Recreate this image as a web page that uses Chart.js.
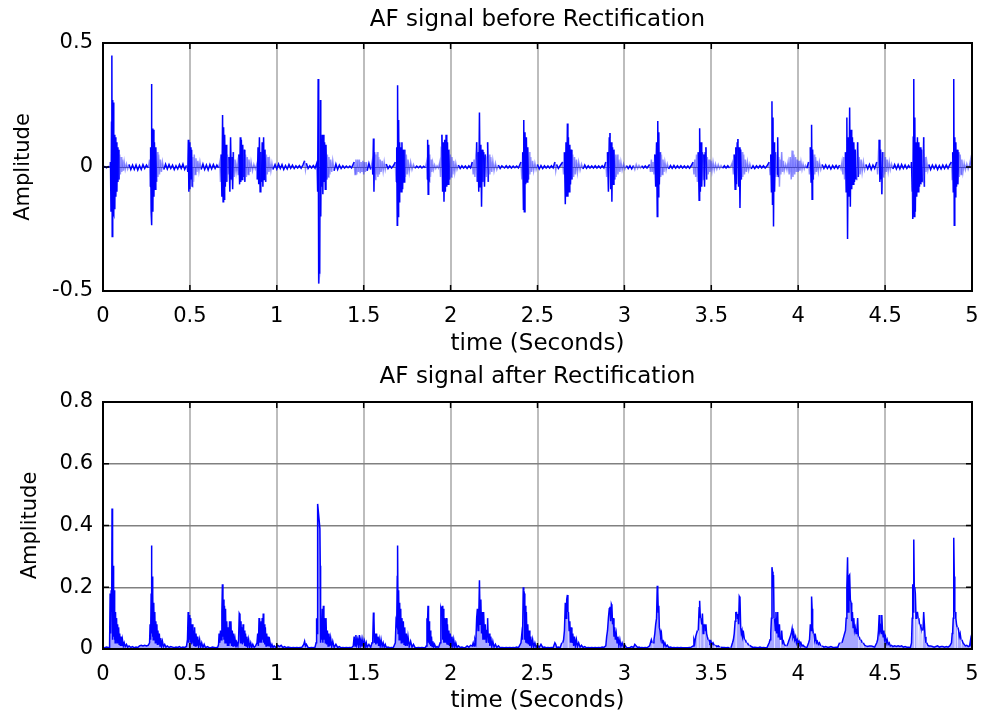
<!DOCTYPE html>
<html>
<head>
<meta charset="utf-8">
<script src="https://cdn.jsdelivr.net/npm/chart.js@4.4.0/dist/chart.umd.min.js"></script>
<style>
  html, body { margin: 0; padding: 0; background: #fff; }
  .panel { position: absolute; left: 0; width: 982px; height: 358px; }
  #p1 { top: 0; }
  #p2 { top: 358px; }
</style>
</head>
<body>
<div class="panel" id="p1"><canvas id="before" width="982" height="358"></canvas></div>
<div class="panel" id="p2"><canvas id="after" width="982" height="358"></canvas></div>
<script>
// tick values
const timeTicks = [0, 0.5, 1, 1.5, 2, 2.5, 3, 3.5, 4, 4.5, 5];
const ampTicksBefore = [-0.5, 0, 0.5];
const ampTicksAfter = [0, 0.2, 0.4, 0.6, 0.8];

// signal before rectification [time, amplitude]
const beforeRect = [
  [0,0],[0.01,0.002],[0.02,-0.003],[0.03,0.002],[0.04,0],
  [0.043,0.02],[0.046,-0.18],[0.049,0.18],[0.051,0.45],[0.053,-0.28],[0.056,0.27],[0.058,-0.18],[0.061,0.26],[0.063,-0.19],[0.066,0.13],[0.068,-0.17],[0.071,0.12],[0.074,-0.12],[0.077,0.1],[0.08,-0.1],[0.083,0.08],[0.086,-0.06],[0.089,0.07],[0.092,-0.05],[0.096,0.05],[0.1,-0.03],[0.104,0.04],[0.108,-0.02],[0.112,0.03],[0.117,-0.015],[0.122,0.02],[0.128,-0.01],[0.135,0.012],[0.142,-0.008],[0.15,0.01],[0.16,-0.01],[0.17,0.008],
  [0.18,-0.01],[0.19,0.008],[0.2,-0.012],[0.21,0.006],[0.22,-0.01],[0.23,0.01],[0.24,-0.006],[0.25,0.008],[0.26,-0.004],
  [0.268,0.03],[0.271,-0.08],[0.274,0.08],[0.277,-0.18],[0.279,0.335],[0.281,-0.235],[0.284,0.155],[0.287,-0.18],[0.29,0.15],[0.293,-0.12],[0.296,0.1],[0.3,-0.09],[0.304,0.08],[0.308,-0.06],[0.312,0.06],[0.316,-0.04],[0.32,0.05],[0.325,-0.03],[0.33,0.03],[0.336,-0.02],[0.342,0.02],[0.35,-0.01],[0.36,0.012],[0.37,-0.008],
  [0.38,0.01],[0.39,-0.006],[0.4,0.008],[0.41,-0.01],[0.42,0.005],[0.43,-0.008],[0.44,0.01],[0.45,-0.006],[0.46,0.012],[0.47,-0.01],[0.48,0.006],
  [0.488,-0.02],[0.491,0.11],[0.494,-0.1],[0.497,0.1],[0.5,-0.09],[0.503,0.08],[0.506,-0.05],[0.51,0.07],[0.513,-0.08],[0.517,0.04],[0.521,-0.06],[0.525,0.05],[0.53,-0.03],[0.535,0.035],[0.54,-0.02],[0.546,0.025],[0.552,-0.015],[0.558,0.02],[0.565,-0.01],
  [0.575,0.012],[0.585,-0.01],[0.595,0.008],[0.605,-0.012],[0.615,0.01],[0.625,-0.008],[0.635,0.01],[0.645,-0.006],[0.655,0.008],[0.665,-0.004],
  [0.672,0.02],[0.676,-0.06],[0.68,0.05],[0.684,-0.12],[0.688,0.21],[0.691,-0.14],[0.694,0.16],[0.697,-0.13],[0.7,0.13],[0.704,-0.08],[0.708,0.09],[0.712,-0.06],[0.716,0.05],[0.72,-0.03],[0.725,0.04],[0.73,-0.1],[0.734,0.12],[0.738,-0.05],[0.742,0.04],[0.746,-0.09],[0.75,0.06],[0.755,-0.04],[0.76,0.03],[0.766,-0.02],[0.772,0.015],
  [0.778,-0.03],[0.782,0.05],[0.786,-0.07],[0.79,0.12],[0.793,-0.06],[0.796,0.11],[0.8,-0.05],[0.804,0.09],[0.808,-0.04],[0.812,0.07],[0.816,-0.06],[0.82,0.05],[0.825,-0.04],[0.83,0.04],[0.835,-0.03],[0.84,0.03],[0.846,-0.02],[0.852,0.02],[0.86,-0.015],[0.868,0.01],[0.876,-0.008],
  [0.884,0.01],[0.888,-0.05],[0.892,0.08],[0.896,-0.07],[0.9,0.12],[0.904,-0.1],[0.908,0.06],[0.912,-0.06],[0.916,0.1],[0.92,-0.08],[0.924,0.12],[0.928,-0.05],[0.932,0.07],[0.936,-0.06],[0.94,0.05],[0.945,-0.03],[0.95,0.04],[0.955,-0.02],[0.96,0.02],[0.966,-0.015],[0.972,0.015],[0.978,-0.01],
  [0.99,0.01],[1.0,-0.008],[1.01,0.012],[1.02,-0.006],[1.03,0.01],[1.04,-0.01],[1.05,0.006],[1.06,-0.008],[1.07,0.01],[1.08,-0.005],[1.09,0.008],[1.1,-0.006],[1.11,0.005],[1.12,-0.004],[1.13,0.006],[1.14,-0.005],[1.15,0.008],[1.16,0.025],[1.165,-0.01],[1.17,0.015],[1.18,-0.006],[1.19,0.005],[1.2,-0.004],[1.21,0.006],[1.22,-0.005],
  [1.232,0.02],[1.235,-0.1],[1.238,0.355],[1.241,-0.47],[1.247,-0.43],[1.25,0.27],[1.253,-0.2],[1.256,0.1],[1.259,-0.08],[1.262,0.13],[1.265,-0.11],[1.268,0.13],[1.271,-0.06],[1.275,0.1],[1.279,-0.09],[1.283,0.09],[1.287,-0.05],[1.291,0.05],[1.295,-0.04],[1.3,0.04],[1.305,-0.03],[1.31,0.03],[1.316,-0.02],[1.322,0.025],[1.33,-0.015],[1.34,0.012],[1.35,-0.01],[1.36,0.008],
  [1.37,-0.006],[1.38,0.005],[1.39,-0.004],[1.4,0.004],[1.41,-0.003],[1.42,0.004],[1.43,-0.004],
  [1.445,0.02],[1.45,-0.03],[1.455,0.03],[1.46,-0.03],[1.465,0.03],[1.47,-0.02],[1.475,0.03],[1.48,-0.025],[1.485,0.02],[1.49,-0.02],[1.495,0.025],[1.5,-0.03],[1.505,0.02],[1.51,-0.02],[1.515,0.02],[1.52,-0.015],[1.53,0.015],[1.54,-0.01],
  [1.548,0.02],[1.552,-0.03],[1.556,0.115],[1.559,-0.1],[1.562,0.06],[1.566,-0.05],[1.57,0.05],[1.574,-0.03],[1.578,0.06],[1.582,-0.04],[1.586,0.04],[1.59,-0.03],[1.595,0.03],[1.6,-0.02],[1.606,0.025],[1.612,-0.015],[1.618,0.02],[1.624,-0.01],[1.63,0.012],[1.64,-0.006],[1.65,0.005],[1.66,-0.004],[1.67,0.004],
  [1.682,0.02],[1.686,-0.06],[1.69,0.08],[1.693,-0.235],[1.695,0.33],[1.698,-0.2],[1.701,0.19],[1.704,-0.14],[1.707,0.1],[1.71,-0.08],[1.713,0.08],[1.716,-0.1],[1.72,0.1],[1.724,-0.09],[1.728,0.07],[1.732,-0.06],[1.736,0.07],[1.74,-0.04],[1.745,0.05],[1.75,-0.03],[1.755,0.03],[1.762,-0.02],[1.77,0.02],[1.778,-0.01],[1.786,0.01],[1.795,-0.005],
  [1.805,0.004],[1.815,-0.003],[1.825,0.004],[1.835,-0.004],[1.845,0.003],[1.855,-0.003],
  [1.862,0.02],[1.865,-0.05],[1.868,0.11],[1.871,-0.11],[1.874,0.09],[1.877,-0.06],[1.88,0.05],[1.884,-0.04],[1.888,0.03],[1.892,-0.02],[1.897,0.015],[1.902,-0.01],[1.908,0.008],[1.915,-0.006],[1.922,0.005],[1.93,-0.004],
  [1.938,0.02],[1.942,-0.04],[1.946,0.08],[1.95,0.13],[1.954,-0.1],[1.958,0.1],[1.962,-0.14],[1.966,0.11],[1.97,-0.1],[1.974,0.13],[1.978,-0.08],[1.982,0.1],[1.986,-0.07],[1.99,0.07],[1.994,-0.05],[1.998,0.05],[2.003,-0.04],[2.008,0.04],[2.013,-0.03],[2.018,0.025],[2.024,-0.02],[2.03,0.015],[2.037,-0.01],[2.045,0.008],[2.055,-0.006],[2.065,0.005],[2.075,-0.004],[2.085,0.004],[2.095,-0.006],[2.105,0.005],[2.115,-0.004],
  [2.125,0.02],[2.13,-0.03],[2.135,0.03],[2.14,-0.04],[2.145,0.05],[2.15,0.1],[2.154,-0.06],[2.158,0.06],[2.162,-0.1],[2.166,0.22],[2.17,-0.08],[2.174,0.09],[2.178,-0.16],[2.182,0.07],[2.186,-0.06],[2.19,0.06],[2.195,-0.08],[2.2,0.05],[2.205,-0.04],[2.21,0.04],[2.213,0.1],[2.217,-0.06],[2.221,0.05],[2.226,-0.03],[2.231,0.04],[2.237,-0.02],[2.243,0.025],[2.25,-0.015],[2.258,0.015],[2.266,-0.01],[2.275,0.008],[2.285,-0.006],[2.295,0.005],
  [2.31,-0.004],[2.32,0.005],[2.33,-0.004],[2.34,0.004],[2.35,-0.004],[2.36,0.004],[2.37,-0.003],[2.38,0.004],[2.39,-0.004],
  [2.405,0.02],[2.41,-0.05],[2.415,0.06],[2.419,-0.17],[2.421,0.19],[2.424,-0.18],[2.428,0.14],[2.432,-0.07],[2.436,0.12],[2.44,-0.06],[2.444,0.08],[2.448,-0.05],[2.452,0.06],[2.456,-0.03],[2.461,0.04],[2.466,-0.02],[2.472,0.025],[2.478,-0.015],[2.485,0.015],[2.492,-0.01],[2.5,0.01],[2.51,-0.008],
  [2.52,0.006],[2.53,-0.006],[2.54,0.005],[2.55,-0.004],[2.56,0.004],[2.57,-0.004],[2.58,0.005],[2.59,-0.004],[2.6,0.02],[2.605,-0.015],[2.61,0.01],[2.62,-0.006],[2.63,0.005],
  [2.645,0.02],[2.65,-0.03],[2.655,0.06],[2.66,-0.15],[2.664,0.1],[2.668,-0.12],[2.672,0.175],[2.675,-0.12],[2.678,0.12],[2.682,-0.1],[2.686,0.09],[2.69,-0.07],[2.694,0.07],[2.698,-0.05],[2.703,0.05],[2.708,-0.04],[2.713,0.04],[2.718,-0.03],[2.724,0.03],[2.73,-0.02],[2.737,0.02],[2.745,-0.012],[2.753,0.012],[2.762,-0.008],[2.772,0.008],[2.782,-0.005],[2.792,0.005],[2.802,-0.004],[2.812,0.004],
  [2.822,-0.004],[2.832,0.005],[2.842,-0.004],[2.852,0.004],[2.862,-0.004],[2.872,0.005],[2.882,-0.004],
  [2.893,0.02],[2.898,-0.04],[2.903,0.06],[2.908,-0.1],[2.913,0.12],[2.917,0.137],[2.921,-0.09],[2.925,0.1],[2.928,-0.14],[2.932,0.08],[2.936,-0.07],[2.94,0.07],[2.944,-0.05],[2.948,0.05],[2.953,-0.04],[2.958,0.05],[2.963,-0.03],[2.968,0.03],[2.974,-0.02],[2.98,0.02],[2.987,-0.012],[2.995,0.012],[3.003,-0.008],[3.012,0.006],
  [3.022,-0.006],[3.032,0.005],[3.042,-0.008],[3.052,0.006],[3.06,-0.01],[3.068,0.01],[3.076,-0.006],[3.084,0.006],[3.092,-0.004],[3.1,0.005],[3.11,-0.004],[3.12,0.004],[3.13,-0.004],
  [3.145,0.01],[3.15,-0.02],[3.155,0.03],[3.16,-0.02],[3.165,0.02],[3.17,-0.03],[3.175,0.05],[3.18,-0.08],[3.185,0.1],[3.189,-0.2],[3.192,0.185],[3.195,-0.12],[3.198,0.14],[3.201,-0.07],[3.205,0.06],[3.209,-0.04],[3.213,0.05],[3.217,-0.03],[3.222,0.03],[3.227,-0.02],[3.233,0.02],[3.24,-0.012],[3.247,0.012],[3.255,-0.008],[3.265,0.006],
  [3.275,-0.005],[3.285,0.006],[3.295,-0.005],[3.305,0.005],[3.315,-0.004],[3.325,0.005],[3.335,-0.004],[3.345,0.004],[3.355,-0.004],[3.365,0.004],[3.375,-0.005],[3.385,0.006],
  [3.395,0.02],[3.4,-0.03],[3.405,0.03],[3.41,-0.04],[3.415,0.05],[3.42,-0.06],[3.425,0.06],[3.43,-0.134],[3.433,0.156],[3.437,-0.1],[3.441,0.1],[3.445,-0.08],[3.449,0.06],[3.453,-0.05],[3.457,0.05],[3.461,-0.08],[3.465,0.06],[3.469,0.08],[3.473,-0.05],[3.477,0.04],[3.482,-0.03],[3.487,0.03],[3.492,-0.02],[3.498,0.025],[3.504,-0.015],[3.51,0.02],[3.517,-0.012],[3.524,0.012],[3.532,-0.008],[3.54,0.01],[3.548,-0.006],[3.556,0.006],[3.565,-0.005],
  [3.575,0.005],[3.585,-0.004],[3.595,0.005],[3.605,-0.004],[3.613,0.004],
  [3.622,0.02],[3.627,-0.03],[3.632,0.05],[3.637,-0.09],[3.641,0.08],[3.645,-0.07],[3.649,0.1],[3.653,0.113],[3.657,-0.08],[3.661,0.08],[3.665,-0.165],[3.669,0.07],[3.673,-0.05],[3.677,0.06],[3.681,-0.04],[3.686,0.05],[3.691,-0.03],[3.696,0.03],[3.702,-0.02],[3.708,0.02],[3.715,-0.012],[3.722,0.012],[3.73,-0.008],
  [3.74,0.005],[3.75,-0.006],[3.76,0.005],[3.77,-0.004],[3.78,0.006],[3.79,-0.004],[3.8,0.005],[3.81,-0.004],[3.82,0.004],
  [3.833,0.02],[3.838,-0.03],[3.842,0.05],[3.846,-0.1],[3.849,0.265],[3.852,-0.15],[3.855,0.2],[3.858,-0.24],[3.861,0.1],[3.864,-0.1],[3.868,0.06],[3.872,-0.04],[3.876,0.05],[3.879,-0.03],[3.882,0.12],[3.885,-0.04],[3.889,0.04],[3.892,-0.08],[3.896,0.03],[3.9,-0.03],[3.905,0.06],[3.91,-0.02],[3.915,0.025],[3.92,-0.015],
  [3.928,0.01],[3.935,-0.01],[3.942,0.02],[3.948,-0.03],[3.954,0.04],[3.96,-0.05],[3.965,0.066],[3.97,-0.04],[3.975,0.05],[3.98,-0.03],[3.985,0.04],[3.99,-0.02],[3.995,0.03],[4.0,-0.02],[4.005,0.025],[4.01,-0.015],[4.016,0.02],[4.022,-0.01],[4.028,0.012],[4.035,-0.008],[4.042,0.006],[4.05,-0.005],
  [4.06,0.02],[4.065,-0.03],[4.07,0.08],[4.074,-0.06],[4.077,0.17],[4.08,-0.13],[4.083,0.07],[4.087,-0.05],[4.091,0.05],[4.095,-0.03],[4.1,0.04],[4.105,-0.02],[4.11,0.025],[4.116,-0.015],[4.122,0.02],[4.13,-0.01],[4.138,0.01],
  [4.148,-0.006],[4.158,0.008],[4.168,-0.006],[4.178,0.006],[4.188,-0.008],[4.198,0.006],[4.208,-0.005],[4.218,0.006],[4.228,-0.006],[4.238,0.008],[4.246,-0.008],
  [4.252,0.02],[4.257,-0.03],[4.262,0.04],[4.267,-0.05],[4.272,0.06],[4.276,-0.1],[4.28,0.2],[4.284,-0.29],[4.288,0.12],[4.292,-0.12],[4.296,0.24],[4.3,-0.16],[4.304,0.15],[4.308,-0.09],[4.312,0.12],[4.316,-0.07],[4.32,0.1],[4.324,-0.06],[4.328,0.07],[4.333,-0.05],[4.338,0.06],[4.342,0.1],[4.346,-0.04],[4.351,0.04],[4.356,-0.03],[4.362,0.03],[4.368,-0.02],[4.375,0.02],[4.382,-0.012],[4.39,0.01],[4.4,-0.008],[4.41,0.01],
  [4.42,-0.01],[4.43,0.008],[4.44,-0.006],
  [4.452,0.02],[4.457,-0.03],[4.462,0.06],[4.466,0.11],[4.47,-0.06],[4.474,0.07],[4.478,-0.05],[4.481,-0.11],[4.485,0.06],[4.489,-0.04],[4.493,0.06],[4.497,-0.03],[4.502,0.04],[4.507,-0.02],[4.512,0.03],[4.518,-0.015],[4.524,0.02],[4.53,-0.01],[4.537,0.012],[4.545,-0.008],
  [4.555,0.01],[4.565,-0.008],[4.575,0.01],[4.585,-0.008],[4.595,0.01],[4.605,-0.006],[4.615,0.008],[4.625,-0.006],[4.635,0.006],[4.645,-0.004],
  [4.652,0.02],[4.656,-0.1],[4.659,-0.21],[4.662,0.12],[4.665,0.355],[4.668,-0.2],[4.671,0.2],[4.674,-0.18],[4.678,0.1],[4.682,-0.12],[4.686,0.12],[4.69,-0.1],[4.694,0.1],[4.698,-0.08],[4.702,0.08],[4.706,-0.07],[4.71,0.07],[4.714,-0.06],[4.718,0.06],[4.722,0.12],[4.726,-0.08],[4.73,0.04],[4.735,-0.02],[4.74,0.02],[4.746,-0.012],[4.752,0.01],
  [4.762,-0.01],[4.772,0.008],[4.782,-0.006],[4.792,0.008],[4.802,-0.01],[4.812,0.006],[4.822,-0.008],[4.832,0.008],[4.842,-0.006],[4.852,0.008],[4.862,-0.006],[4.872,0.01],
  [4.882,0.02],[4.886,-0.05],[4.889,0.06],[4.892,-0.1],[4.895,0.355],[4.898,-0.235],[4.901,0.12],[4.904,-0.12],[4.907,0.1],[4.911,-0.08],[4.915,0.07],[4.919,-0.07],[4.923,0.06],[4.927,-0.04],[4.932,0.05],[4.937,-0.03],[4.942,0.03],[4.948,-0.02],[4.955,0.015],[4.962,-0.01],[4.97,0.012],[4.978,-0.008],[4.986,0.01],[4.992,0.03],[4.996,0],[5.0,0.005]
];

// signal after rectification [time, amplitude]
const afterRect = [
  [0,0.005],[0.01,0.004],[0.02,0.006],[0.03,0.005],[0.035,0.006],
  [0.038,0.02],[0.041,0.18],[0.044,0.05],[0.047,0.19],[0.05,0.12],[0.052,0.455],[0.054,0.03],[0.056,0.28],[0.058,0.06],[0.06,0.27],[0.062,0.04],[0.064,0.19],[0.066,0.03],[0.068,0.12],[0.07,0.02],[0.072,0.12],[0.075,0.03],[0.078,0.1],[0.081,0.02],[0.084,0.08],[0.087,0.02],[0.09,0.07],[0.093,0.015],[0.096,0.05],[0.1,0.01],[0.104,0.04],[0.108,0.01],[0.112,0.03],[0.117,0.01],[0.122,0.02],[0.128,0.008],[0.135,0.015],[0.142,0.006],[0.15,0.01],[0.16,0.005],[0.17,0.008],
  [0.18,0.004],[0.19,0.006],[0.2,0.005],[0.21,0.01],[0.22,0.012],[0.23,0.01],[0.24,0.012],[0.25,0.01],[0.26,0.012],
  [0.268,0.02],[0.271,0.08],[0.274,0.03],[0.277,0.18],[0.279,0.335],[0.281,0.05],[0.283,0.235],[0.285,0.04],[0.287,0.18],[0.289,0.03],[0.292,0.15],[0.295,0.03],[0.298,0.12],[0.301,0.02],[0.304,0.09],[0.307,0.02],[0.31,0.08],[0.313,0.015],[0.316,0.06],[0.32,0.015],[0.324,0.05],[0.328,0.01],[0.332,0.035],[0.337,0.01],[0.342,0.025],[0.348,0.008],[0.355,0.015],[0.362,0.006],[0.37,0.01],
  [0.38,0.005],[0.39,0.008],[0.4,0.006],[0.41,0.004],[0.42,0.006],[0.43,0.005],[0.44,0.008],[0.45,0.004],[0.46,0.006],[0.47,0.005],[0.48,0.008],
  [0.486,0.03],[0.49,0.12],[0.493,0.02],[0.496,0.11],[0.499,0.03],[0.502,0.1],[0.505,0.02],[0.508,0.08],[0.511,0.015],[0.514,0.08],[0.517,0.02],[0.52,0.06],[0.523,0.01],[0.527,0.07],[0.531,0.01],[0.535,0.05],[0.54,0.01],[0.545,0.04],[0.55,0.008],[0.556,0.03],[0.562,0.006],[0.568,0.02],[0.575,0.005],[0.582,0.015],[0.59,0.004],[0.6,0.008],
  [0.61,0.005],[0.62,0.004],[0.63,0.006],[0.64,0.005],[0.65,0.004],[0.66,0.006],[0.665,0.015],
  [0.668,0.05],[0.672,0.02],[0.676,0.06],[0.68,0.03],[0.684,0.12],[0.687,0.21],[0.69,0.04],[0.693,0.16],[0.696,0.03],[0.699,0.14],[0.702,0.02],[0.705,0.13],[0.708,0.02],[0.712,0.09],[0.716,0.01],[0.72,0.07],[0.724,0.01],[0.728,0.09],[0.732,0.02],[0.736,0.09],[0.74,0.01],[0.744,0.06],[0.748,0.01],[0.752,0.05],[0.756,0.01],[0.76,0.03],[0.765,0.005],[0.77,0.02],
  [0.776,0.01],[0.78,0.03],[0.784,0.115],[0.788,0.11],[0.791,0.02],[0.794,0.09],[0.797,0.02],[0.8,0.07],[0.803,0.015],[0.806,0.08],[0.809,0.02],[0.812,0.06],[0.816,0.01],[0.82,0.05],[0.824,0.01],[0.828,0.04],[0.833,0.008],[0.838,0.03],[0.844,0.006],[0.85,0.02],[0.856,0.005],[0.862,0.015],[0.87,0.005],[0.878,0.01],
  [0.886,0.02],[0.89,0.05],[0.894,0.01],[0.898,0.1],[0.901,0.02],[0.904,0.07],[0.907,0.02],[0.91,0.09],[0.913,0.02],[0.916,0.1],[0.919,0.03],[0.922,0.115],[0.925,0.02],[0.928,0.08],[0.931,0.015],[0.934,0.07],[0.938,0.01],[0.942,0.05],[0.946,0.01],[0.95,0.04],[0.955,0.008],[0.96,0.025],[0.966,0.005],[0.972,0.015],[0.978,0.005],[0.985,0.01],
  [0.995,0.005],[1.005,0.012],[1.015,0.008],[1.025,0.012],[1.035,0.005],[1.045,0.008],[1.055,0.004],[1.065,0.006],[1.075,0.005],[1.085,0.004],[1.095,0.005],[1.105,0.004],[1.115,0.005],[1.125,0.004],[1.135,0.005],[1.145,0.006],[1.155,0.015],[1.16,0.025],[1.165,0.01],[1.17,0.015],[1.18,0.005],[1.19,0.004],[1.2,0.005],[1.21,0.004],[1.22,0.006],
  [1.226,0.02],[1.229,0.1],[1.232,0.05],[1.235,0.47],[1.248,0.39],[1.25,0.27],[1.252,0.02],[1.255,0.1],[1.258,0.03],[1.262,0.13],[1.265,0.02],[1.268,0.14],[1.271,0.03],[1.275,0.1],[1.279,0.02],[1.283,0.1],[1.287,0.015],[1.291,0.06],[1.295,0.01],[1.3,0.05],[1.305,0.01],[1.31,0.035],[1.316,0.008],[1.322,0.025],[1.33,0.005],[1.34,0.015],[1.35,0.005],[1.36,0.008],
  [1.37,0.004],[1.38,0.005],[1.39,0.004],[1.4,0.005],[1.41,0.004],[1.42,0.005],[1.43,0.004],
  [1.44,0.01],[1.445,0.04],[1.45,0.01],[1.455,0.045],[1.46,0.015],[1.465,0.03],[1.47,0.01],[1.475,0.045],[1.48,0.01],[1.485,0.03],[1.49,0.008],[1.495,0.03],[1.5,0.01],[1.505,0.025],[1.51,0.008],[1.515,0.02],[1.52,0.006],[1.53,0.015],[1.54,0.005],
  [1.548,0.02],[1.552,0.03],[1.556,0.118],[1.559,0.1],[1.562,0.02],[1.566,0.05],[1.57,0.015],[1.574,0.05],[1.578,0.02],[1.582,0.04],[1.586,0.01],[1.59,0.03],[1.595,0.01],[1.6,0.03],[1.606,0.008],[1.612,0.02],[1.618,0.006],[1.624,0.015],[1.63,0.005],[1.64,0.006],[1.65,0.004],[1.66,0.005],[1.67,0.004],
  [1.682,0.02],[1.686,0.09],[1.69,0.08],[1.693,0.235],[1.695,0.335],[1.698,0.05],[1.701,0.19],[1.704,0.03],[1.707,0.15],[1.71,0.03],[1.713,0.13],[1.716,0.02],[1.72,0.1],[1.724,0.02],[1.728,0.09],[1.732,0.015],[1.736,0.07],[1.74,0.01],[1.745,0.05],[1.75,0.01],[1.755,0.04],[1.762,0.008],[1.77,0.025],[1.778,0.006],[1.786,0.015],[1.795,0.005],
  [1.805,0.004],[1.815,0.005],[1.825,0.004],[1.835,0.005],[1.845,0.004],[1.855,0.005],
  [1.86,0.01],[1.864,0.1],[1.867,0.08],[1.87,0.14],[1.873,0.02],[1.876,0.09],[1.879,0.015],[1.882,0.06],[1.886,0.01],[1.89,0.04],[1.894,0.008],[1.898,0.025],[1.903,0.006],[1.908,0.015],[1.915,0.005],[1.922,0.008],[1.93,0.004],
  [1.94,0.02],[1.944,0.13],[1.948,0.12],[1.952,0.14],[1.955,0.03],[1.958,0.13],[1.961,0.02],[1.964,0.1],[1.967,0.02],[1.97,0.09],[1.973,0.02],[1.976,0.1],[1.979,0.015],[1.982,0.08],[1.986,0.015],[1.99,0.06],[1.994,0.01],[1.998,0.05],[2.003,0.01],[2.008,0.04],[2.013,0.008],[2.018,0.03],[2.024,0.006],[2.03,0.02],[2.037,0.005],[2.045,0.01],[2.055,0.005],[2.065,0.006],[2.075,0.004],[2.085,0.005],[2.095,0.01],[2.105,0.006],[2.115,0.012],
  [2.125,0.01],[2.13,0.02],[2.135,0.01],[2.14,0.03],[2.145,0.02],[2.15,0.1],[2.154,0.13],[2.158,0.06],[2.162,0.1],[2.166,0.223],[2.17,0.08],[2.174,0.16],[2.178,0.05],[2.182,0.12],[2.186,0.03],[2.19,0.12],[2.195,0.03],[2.2,0.08],[2.205,0.02],[2.21,0.06],[2.213,0.1],[2.217,0.02],[2.221,0.05],[2.226,0.01],[2.231,0.04],[2.237,0.008],[2.243,0.025],[2.25,0.006],[2.258,0.015],[2.266,0.005],[2.275,0.01],[2.285,0.004],[2.295,0.005],
  [2.31,0.004],[2.32,0.005],[2.33,0.004],[2.34,0.005],[2.35,0.004],[2.36,0.005],[2.37,0.004],[2.38,0.006],[2.39,0.004],
  [2.405,0.02],[2.41,0.05],[2.414,0.03],[2.418,0.2],[2.421,0.19],[2.424,0.18],[2.427,0.03],[2.43,0.14],[2.433,0.02],[2.436,0.12],[2.44,0.02],[2.444,0.08],[2.448,0.015],[2.452,0.06],[2.456,0.01],[2.461,0.04],[2.466,0.008],[2.472,0.03],[2.478,0.006],[2.485,0.02],[2.492,0.005],[2.5,0.012],[2.51,0.005],
  [2.52,0.015],[2.53,0.005],[2.54,0.006],[2.55,0.004],[2.56,0.005],[2.57,0.004],[2.58,0.005],[2.59,0.004],[2.6,0.02],[2.605,0.015],[2.61,0.005],[2.62,0.006],[2.63,0.004],[2.64,0.02],
  [2.645,0.02],[2.65,0.03],[2.655,0.06],[2.66,0.15],[2.664,0.1],[2.668,0.16],[2.672,0.175],[2.675,0.12],[2.678,0.12],[2.682,0.06],[2.686,0.09],[2.69,0.02],[2.694,0.07],[2.698,0.02],[2.703,0.05],[2.708,0.01],[2.713,0.04],[2.718,0.01],[2.724,0.03],[2.73,0.008],[2.737,0.02],[2.745,0.006],[2.753,0.012],[2.762,0.005],[2.772,0.008],[2.782,0.004],[2.792,0.005],[2.802,0.004],[2.812,0.005],
  [2.822,0.004],[2.832,0.005],[2.842,0.004],[2.852,0.005],[2.862,0.004],[2.872,0.006],[2.882,0.005],
  [2.893,0.01],[2.898,0.04],[2.903,0.06],[2.908,0.1],[2.913,0.13],[2.917,0.137],[2.921,0.09],[2.925,0.145],[2.928,0.14],[2.932,0.08],[2.936,0.1],[2.94,0.04],[2.944,0.07],[2.948,0.03],[2.953,0.05],[2.958,0.02],[2.963,0.04],[2.968,0.01],[2.974,0.03],[2.98,0.008],[2.987,0.02],[2.995,0.006],[3.003,0.012],[3.012,0.005],
  [3.022,0.004],[3.032,0.005],[3.042,0.008],[3.052,0.005],[3.06,0.015],[3.068,0.01],[3.076,0.005],[3.084,0.006],[3.092,0.004],[3.1,0.005],[3.11,0.004],[3.12,0.005],[3.13,0.004],
  [3.145,0.01],[3.15,0.02],[3.155,0.03],[3.16,0.02],[3.165,0.02],[3.17,0.03],[3.175,0.05],[3.18,0.08],[3.185,0.1],[3.189,0.205],[3.192,0.185],[3.195,0.12],[3.198,0.14],[3.201,0.07],[3.205,0.06],[3.209,0.04],[3.213,0.05],[3.217,0.02],[3.222,0.03],[3.227,0.01],[3.233,0.02],[3.24,0.008],[3.247,0.012],[3.255,0.005],[3.265,0.006],
  [3.275,0.004],[3.285,0.005],[3.295,0.004],[3.305,0.005],[3.315,0.004],[3.325,0.005],[3.335,0.004],[3.345,0.004],[3.355,0.004],[3.365,0.004],[3.375,0.005],[3.385,0.006],
  [3.395,0.01],[3.4,0.03],[3.405,0.02],[3.41,0.04],[3.415,0.05],[3.42,0.06],[3.425,0.06],[3.43,0.134],[3.433,0.156],[3.437,0.1],[3.441,0.1],[3.445,0.08],[3.449,0.115],[3.453,0.05],[3.457,0.08],[3.461,0.08],[3.465,0.06],[3.469,0.08],[3.473,0.05],[3.477,0.04],[3.482,0.03],[3.487,0.03],[3.492,0.02],[3.498,0.025],[3.504,0.015],[3.51,0.02],[3.517,0.012],[3.524,0.012],[3.532,0.008],[3.54,0.01],[3.548,0.006],[3.556,0.006],[3.565,0.005],
  [3.575,0.005],[3.585,0.004],[3.595,0.005],[3.605,0.004],[3.613,0.004],
  [3.622,0.02],[3.627,0.03],[3.632,0.05],[3.637,0.09],[3.641,0.12],[3.645,0.12],[3.649,0.1],[3.653,0.113],[3.657,0.08],[3.661,0.17],[3.665,0.165],[3.669,0.07],[3.673,0.05],[3.677,0.06],[3.681,0.04],[3.686,0.05],[3.691,0.03],[3.696,0.03],[3.702,0.02],[3.708,0.02],[3.715,0.012],[3.722,0.012],[3.73,0.008],
  [3.74,0.005],[3.75,0.006],[3.76,0.005],[3.77,0.004],[3.78,0.006],[3.79,0.004],[3.8,0.005],[3.81,0.004],[3.82,0.004],
  [3.833,0.02],[3.838,0.03],[3.842,0.05],[3.846,0.1],[3.849,0.265],[3.852,0.25],[3.855,0.2],[3.858,0.24],[3.861,0.1],[3.864,0.1],[3.868,0.06],[3.872,0.12],[3.876,0.05],[3.879,0.1],[3.882,0.12],[3.885,0.04],[3.889,0.06],[3.892,0.08],[3.896,0.03],[3.9,0.03],[3.905,0.06],[3.91,0.02],[3.915,0.025],[3.92,0.015],
  [3.928,0.01],[3.935,0.01],[3.942,0.02],[3.948,0.03],[3.954,0.04],[3.96,0.05],[3.965,0.066],[3.97,0.04],[3.975,0.05],[3.98,0.03],[3.985,0.04],[3.99,0.02],[3.995,0.03],[4.0,0.02],[4.005,0.025],[4.01,0.015],[4.016,0.02],[4.022,0.01],[4.028,0.012],[4.035,0.008],[4.042,0.006],[4.05,0.005],
  [4.06,0.02],[4.065,0.03],[4.07,0.08],[4.074,0.06],[4.077,0.17],[4.08,0.13],[4.083,0.07],[4.087,0.05],[4.091,0.05],[4.095,0.03],[4.1,0.04],[4.105,0.02],[4.11,0.025],[4.116,0.015],[4.122,0.02],[4.13,0.01],[4.138,0.01],
  [4.148,0.006],[4.158,0.008],[4.168,0.006],[4.178,0.006],[4.188,0.008],[4.198,0.006],[4.208,0.005],[4.218,0.006],[4.228,0.006],[4.238,0.02],[4.246,0.02],
  [4.252,0.02],[4.257,0.03],[4.262,0.04],[4.267,0.05],[4.272,0.06],[4.276,0.1],[4.28,0.2],[4.284,0.297],[4.288,0.12],[4.292,0.236],[4.296,0.24],[4.3,0.16],[4.304,0.15],[4.308,0.09],[4.312,0.12],[4.316,0.07],[4.32,0.1],[4.324,0.06],[4.328,0.07],[4.333,0.05],[4.338,0.06],[4.342,0.1],[4.346,0.04],[4.351,0.04],[4.356,0.03],[4.362,0.03],[4.368,0.02],[4.375,0.02],[4.382,0.012],[4.39,0.01],[4.4,0.008],[4.41,0.01],
  [4.42,0.01],[4.43,0.008],[4.44,0.006],
  [4.452,0.02],[4.457,0.03],[4.462,0.06],[4.466,0.11],[4.47,0.06],[4.474,0.07],[4.478,0.05],[4.481,0.11],[4.485,0.06],[4.489,0.04],[4.493,0.06],[4.497,0.03],[4.502,0.04],[4.507,0.02],[4.512,0.03],[4.518,0.015],[4.524,0.02],[4.53,0.01],[4.537,0.012],[4.545,0.008],
  [4.555,0.01],[4.565,0.008],[4.575,0.01],[4.585,0.008],[4.595,0.01],[4.605,0.006],[4.615,0.008],[4.625,0.006],[4.635,0.006],[4.645,0.004],
  [4.652,0.02],[4.656,0.1],[4.659,0.21],[4.662,0.12],[4.665,0.355],[4.668,0.2],[4.671,0.2],[4.674,0.18],[4.678,0.1],[4.682,0.12],[4.686,0.12],[4.69,0.1],[4.694,0.1],[4.698,0.08],[4.702,0.08],[4.706,0.07],[4.71,0.07],[4.714,0.06],[4.718,0.06],[4.722,0.12],[4.726,0.08],[4.73,0.04],[4.735,0.02],[4.74,0.02],[4.746,0.012],[4.752,0.01],
  [4.762,0.01],[4.772,0.008],[4.782,0.006],[4.792,0.008],[4.802,0.01],[4.812,0.006],[4.822,0.008],[4.832,0.008],[4.842,0.006],[4.852,0.008],[4.862,0.006],[4.872,0.01],
  [4.882,0.02],[4.886,0.05],[4.889,0.06],[4.892,0.1],[4.895,0.36],[4.898,0.235],[4.901,0.12],[4.904,0.12],[4.907,0.1],[4.911,0.08],[4.915,0.07],[4.919,0.07],[4.923,0.06],[4.927,0.04],[4.932,0.05],[4.937,0.03],[4.942,0.03],[4.948,0.02],[4.955,0.015],[4.962,0.01],[4.97,0.012],[4.978,0.008],[4.986,0.01],[4.992,0.03],[4.996,0.01],[5.0,0.005]
];

Chart.defaults.font.family = '"DejaVu Sans", "Liberation Sans", sans-serif';
Chart.defaults.color = '#000';

const DARK = '#0000ff';
const LIGHT = 'rgba(40,40,255,0.5)';

// matlab style box with inward ticks
const boxPlugin = {
  id: 'box',
  afterDraw(chart) {
    const { ctx, chartArea: a, scales } = chart;
    ctx.save();
    ctx.strokeStyle = '#000';
    ctx.lineWidth = 1.5;
    ctx.beginPath();
    scales.x.ticks.forEach(t => {
      const px = scales.x.getPixelForValue(t.value);
      ctx.moveTo(px, a.bottom); ctx.lineTo(px, a.bottom - 6);
      ctx.moveTo(px, a.top); ctx.lineTo(px, a.top + 6);
    });
    scales.y.ticks.forEach(t => {
      const py = scales.y.getPixelForValue(t.value);
      ctx.moveTo(a.left, py); ctx.lineTo(a.left + 6, py);
      ctx.moveTo(a.right, py); ctx.lineTo(a.right - 6, py);
    });
    ctx.stroke();
    ctx.lineWidth = 2;
    ctx.strokeRect(a.left, a.top, a.right - a.left, a.bottom - a.top);
    ctx.restore();
  }
};

// big swings and the sparse baseline stay dark, the dense small tail looks washed out
function segColour(limit) {
  return c => {
    const dy = Math.abs(c.p1.parsed.y - c.p0.parsed.y);
    const dx = c.p1.parsed.x - c.p0.parsed.x;
    return (dy > limit || dx >= 0.009) ? DARK : LIGHT;
  };
}

function drawPanel(canvasId, series, title, yMin, yMax, yTicks, pads, hGrid, limit) {
  return new Chart(document.getElementById(canvasId), {
    type: 'line',
    data: {
      datasets: [{
        data: series.map(([x, y]) => ({ x, y })),
        borderColor: DARK,
        backgroundColor: 'rgba(0,0,255,0.35)',
        borderWidth: 1.5,
        pointRadius: 0,
        tension: 0,
        fill: 'origin',
        segment: { borderColor: segColour(limit) }
      }]
    },
    options: {
      responsive: false,
      animation: false,
      events: [],
      layout: { padding: { left: 0, right: 10, top: 0, bottom: 0 } },
      plugins: {
        legend: { display: false },
        tooltip: { enabled: false },
        title: {
          display: true, text: title, fullSize: false,
          font: { size: 23, weight: 'normal' },
          padding: { top: pads.titleTop, bottom: pads.titleBottom }
        }
      },
      scales: {
        x: {
          type: 'linear', min: 0, max: 5,
          afterBuildTicks: s => { s.ticks = timeTicks.map(v => ({ value: v })); },
          afterFit: s => { s.height = 67; s.paddingLeft = 0; s.paddingRight = 0; },
          ticks: { padding: 13, font: { size: 21 }, callback: v => String(v) },
          grid: { color: '#bdbdbd', lineWidth: 2, drawTicks: false },
          border: { display: false },
          title: { display: true, text: 'time (Seconds)', font: { size: 23 }, padding: { top: 0, bottom: pads.xTitle } }
        },
        y: {
          min: yMin, max: yMax,
          afterBuildTicks: s => { s.ticks = yTicks.map(v => ({ value: v })); },
          afterFit: s => { s.width = 103; s.paddingTop = 0; s.paddingBottom = 0; },
          ticks: { padding: 10, font: { size: 21 }, callback: v => String(v) },
          grid: hGrid,
          border: { display: false },
          title: { display: true, text: 'Amplitude', font: { size: 21 }, padding: { top: pads.yTitle } }
        }
      }
    },
    plugins: [boxPlugin]
  });
}

drawPanel('before', beforeRect, 'AF signal before Rectification', -0.5, 0.5, ampTicksBefore,
  { titleTop: 6, titleBottom: 9.4, xTitle: 0, yTitle: 11 },
  { color: '#7a7a7a', lineWidth: 1, drawTicks: false }, 0.12);
drawPanel('after', afterRect, 'AF signal after Rectification', 0, 0.8, ampTicksAfter,
  { titleTop: 5, titleBottom: 11.4, xTitle: 1.5, yTitle: 18 },
  { color: '#808080', lineWidth: 1.5, borderDash: [1.5, 1.5], drawTicks: false }, 0);
</script>
</body>
</html>
